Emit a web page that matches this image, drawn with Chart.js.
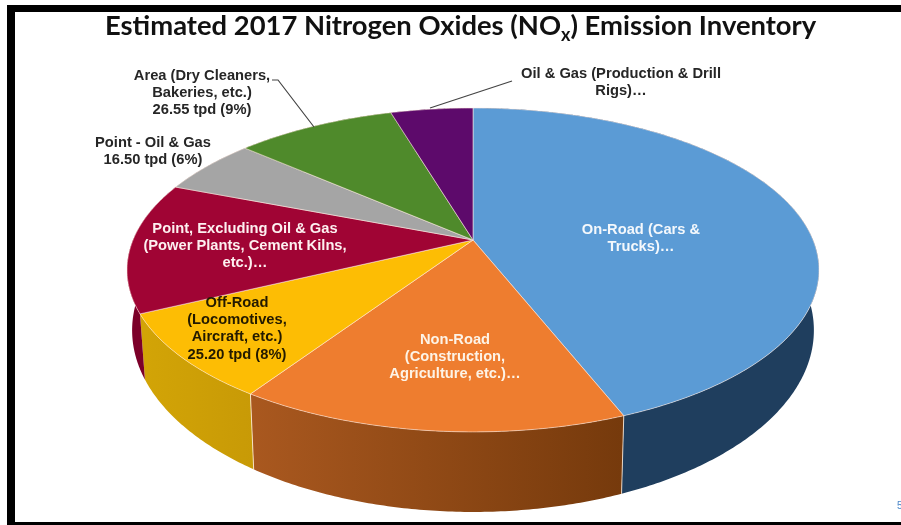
<!DOCTYPE html>
<html>
<head>
<meta charset="utf-8">
<script src="https://cdn.jsdelivr.net/npm/chart.js"></script>
<style>
  html,body{margin:0;padding:0;background:#fff;overflow:hidden}
  #wrap{position:relative;width:901px;height:525px;overflow:hidden;background:#fff}
  #frame{position:absolute;left:7px;top:5px;width:894px;height:520px;border-left:8px solid #000;border-top:7px solid #000;border-bottom:3px solid #000;box-sizing:border-box}
  #title{position:absolute;left:105px;top:8px;margin:0;white-space:nowrap;font:bold 27.4px Lato,sans-serif;color:#111}
  #title sub{font-size:18px;line-height:0;vertical-align:-6px}
  #page{position:absolute;left:897px;top:500px;font:10px "Liberation Sans",sans-serif;color:#4a86c8}
  canvas{position:absolute;left:0;top:0}
</style>
</head>
<body>
<div id="wrap">
  <canvas id="chart_pie" width="901" height="525"></canvas>
  <div id="frame"></div>
  <h1 id="title">Estimated 2017 Nitrogen Oxides (NO<sub>x</sub>) Emission Inventory</h1>
  <div id="page">5</div>
</div>
<script>
const categories = ['On-Road','Non-Road','Off-Road','Point, Excluding Oil & Gas','Point - Oil & Gas','Area','Oil & Gas']
const tpd = [130.4, 45.4, 25.2, 38.6, 16.5, 26.55, 13.6]

const label_lines = [
  ['On-Road (Cars &','Trucks)…'],
  ['Non-Road','(Construction,','Agriculture, etc.)…'],
  ['Off-Road','(Locomotives,','Aircraft, etc.)','25.20 tpd (8%)'],
  ['Point, Excluding Oil & Gas','(Power Plants, Cement Kilns,','etc.)…'],
  ['Point - Oil & Gas','16.50 tpd (6%)'],
  ['Area (Dry Cleaners,','Bakeries, etc.)','26.55 tpd (9%)'],
  ['Oil & Gas (Production & Drill','Rigs)…']
]

// styles
const top_colors = ['#5b9bd5','#ee7d2f','#fdbd04','#a00434','#a5a5a5','#4f8a2b','#5d0a6b']
const wall_colors = [['#1f3e5e','#1d3a58'],['#a9581f','#763a0c'],['#d2a406','#c89a06'],['#7c0029','#7c0029'],['#7a7a7a','#7a7a7a'],['#3a651f','#3a651f'],['#440850','#440850']]
const text_colors = ['#f4f8fc','#fdf3e6','#231a00','#fdf0f0','#262626','#262626','#262626']
const label_pos = [[641,230],[455,340],[237,303],[245,229],[153,143],[202,76],[621,74]]
const leaders = [null,null,null,null,null,[[272,80],[278,80],[314,127]],[[512,81],[430,108]]]

// the tilted disc: same circle, two rings (top face and bottom edge)
const k = 0.185
const top_ring = {cx:473, cy:240, rx:340, ry:156.4}
const low_ring = {cx:473, cy:296.6, rx:335, ry:175.5}

function proj(a, ring){
  const u = Math.cos(a), v = Math.sin(a), w = 1 - k*v
  return [ring.cx + ring.rx*u/w, ring.cy + ring.ry*v/w]
}
function arc_path(ctx, a0, a1, ring, move){
  const n = Math.max(2, Math.ceil(Math.abs(a1-a0)/0.01))
  for(let i=0;i<=n;i++){
    const p = proj(a0+(a1-a0)*i/n, ring)
    if(i==0 && move) ctx.moveTo(p[0],p[1])
    else ctx.lineTo(p[0],p[1])
  }
}

const tilt_pie = {
  id:'tilt_pie',
  beforeDatasetDraw(chart, args){
    const ctx = chart.ctx
    const arcs = chart.getDatasetMeta(args.index).data
    ctx.save()
    // walls
    arcs.forEach((arc,i)=>{
      const g = ctx.createLinearGradient(proj(arc.startAngle,low_ring)[0],0,proj(arc.endAngle,low_ring)[0],0)
      const c = wall_colors[i]
      g.addColorStop(0,c[1]); g.addColorStop(1,c[0])
      ctx.beginPath()
      arc_path(ctx,arc.startAngle,arc.endAngle,top_ring,true)
      arc_path(ctx,arc.endAngle,arc.startAngle,low_ring,false)
      ctx.closePath()
      ctx.fillStyle = g
      ctx.fill()
    })
    // seams on the front wall
    ctx.strokeStyle = 'rgba(255,240,225,.8)'
    ctx.lineWidth = 1
    arcs.forEach(arc=>{
      const a = arc.endAngle
      if(Math.sin(a) < 0.6) return
      const p = proj(a,top_ring), q = proj(a,low_ring)
      ctx.beginPath(); ctx.moveTo(p[0],p[1]); ctx.lineTo(q[0],q[1]); ctx.stroke()
    })
    // top face
    arcs.forEach((arc,i)=>{
      ctx.beginPath()
      ctx.moveTo(top_ring.cx,top_ring.cy)
      arc_path(ctx,arc.startAngle,arc.endAngle,top_ring,false)
      ctx.closePath()
      ctx.fillStyle = top_colors[i]
      ctx.fill()
      ctx.strokeStyle = 'rgba(255,235,225,.55)'
      ctx.lineWidth = 1
      ctx.stroke()
    })
    ctx.restore()
    return false
  },
  afterDatasetsDraw(chart){
    const ctx = chart.ctx
    ctx.save()
    ctx.strokeStyle = '#444'
    ctx.lineWidth = 1.2
    leaders.forEach(l=>{
      if(!l) return
      ctx.beginPath()
      l.forEach((p,j)=> j==0 ? ctx.moveTo(p[0],p[1]) : ctx.lineTo(p[0],p[1]))
      ctx.stroke()
    })
    ctx.font = 'bold 14.7px "Liberation Sans", sans-serif'
    ctx.textAlign = 'center'
    ctx.textBaseline = 'middle'
    label_lines.forEach((lines,i)=>{
      ctx.fillStyle = text_colors[i]
      lines.forEach((t,j)=> ctx.fillText(t,label_pos[i][0],label_pos[i][1]+j*17.2))
    })
    ctx.restore()
  }
}

new Chart(document.getElementById('chart_pie'), {
  type:'pie',
  data:{
    labels:categories,
    datasets:[{data:tpd, backgroundColor:top_colors}]
  },
  options:{
    responsive:false,
    animation:false,
    plugins:{legend:{display:false},tooltip:{enabled:false}}
  },
  plugins:[tilt_pie]
})
</script>
</body>
</html>
